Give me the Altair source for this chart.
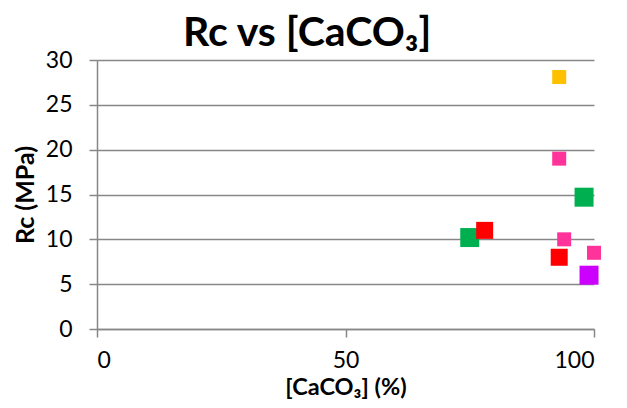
import altair as alt
import pandas as pd

caco3 = [93, 93, 98, 75, 78, 94, 93, 100, 99]
rc = [28.1, 19.0, 14.7, 10.2, 11.0, 10.0, 8.0, 8.5, 6.0]
colors = ["#FFC000", "#FF3399", "#00B050", "#00B050", "#FF0000", "#FF3399", "#FF0000", "#FF3399", "#CC00FF"]
sizes = [196, 196, 361, 361, 289, 196, 289, 196, 361]

df = pd.DataFrame({"caco3": caco3, "rc": rc, "color": colors, "size": sizes})

FONT = "Lato"

points = alt.Chart(df).mark_square(opacity=1).encode(
    x=alt.X("caco3:Q", scale=alt.Scale(domain=[0, 100], nice=False),
            axis=alt.Axis(values=[0, 50, 100], title="[CaCO₃] (%)", grid=False,
                          tickSize=8, labelPadding=12, titlePadding=3, titleFontSize=23.5)),
    y=alt.Y("rc:Q", scale=alt.Scale(domain=[0, 30], nice=False),
            axis=alt.Axis(values=[0, 5, 10, 15, 20, 25, 30], title="Rc (MPa)", grid=True,
                          tickSize=8, labelPadding=17, titlePadding=7, titleFontSize=25)),
    color=alt.Color("color:N", scale=None),
    size=alt.Size("size:Q", scale=None),
)

chart = points.properties(
    width=497, height=269,
    title=alt.TitleParams("Rc vs [CaCO₃]", fontSize=41, font=FONT, fontWeight="bold",
                          color="#000000", offset=-6, frame="bounds"),
    autosize=alt.AutoSizeParams(type="none"),
    padding={"left": 89, "top": 52, "right": 16, "bottom": 80},
).configure_view(stroke=None).configure_axis(
    labelFont=FONT, labelFontSize=23, labelColor="#000000",
    titleFont=FONT, titleFontWeight="bold", titleColor="#000000",
    domainColor="#878787", domainWidth=1.5, tickColor="#878787", tickWidth=1.5,
    gridColor="#878787", gridWidth=1.5, gridOpacity=1,
)

chart.save("out.html", embed_options={"renderer": "svg", "actions": False})
